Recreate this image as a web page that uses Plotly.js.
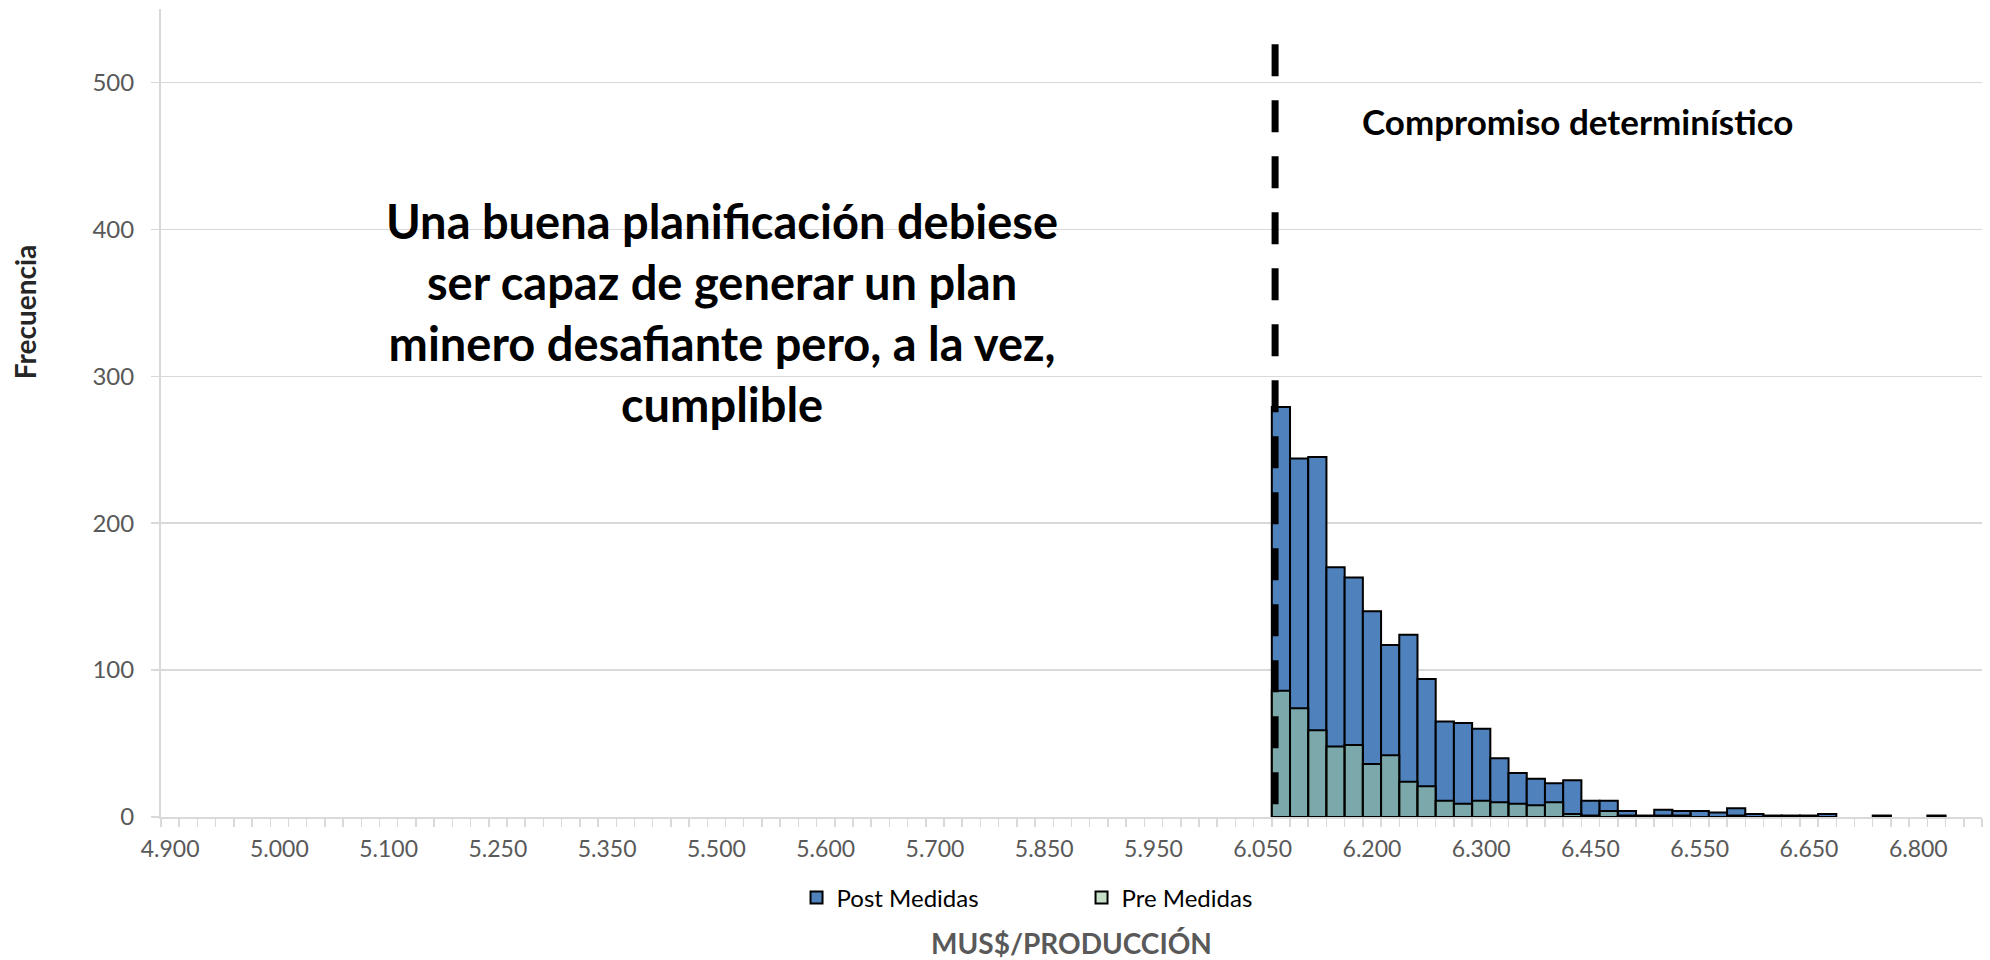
<!DOCTYPE html>
<html>
<head>
<meta charset="utf-8">
<script src="https://cdn.plot.ly/plotly-3.0.1.min.js"></script>
<style>
html,body{margin:0;padding:0;background:#fff;}
#chart{width:1990px;height:960px;}
</style>
</head>
<body>
<div id="chart"></div>
<script>
// Category labels shown on the x axis (one label every 6 bins)
const tickLabels = ['4.900','5.000','5.100','5.250','5.350','5.500','5.600','5.700','5.850','5.950','6.050','6.200','6.300','6.450','6.550','6.650','6.800'];
const tickBins = [0,6,12,18,24,30,36,42,48,54,60,66,72,78,84,90,96];
const binCount = 100;

// Histogram bins (bin index) that hold observations
const binIndex = [61,62,63,64,65,66,67,68,69,70,71,72,73,74,75,76,77,78,79,80,81,82,83,84,85,86,87,88,89,90,91,92,93,94,95,96,97];
const postMedidas = [279,244,245,170,163,140,117,124,94,65,64,60,40,30,26,23,25,11,11,4,1,5,4,4,3,6,2,1,1,1,2,0,0,1,0,0,1];
const preMedidas  = [86,74,59,48,49,36,42,24,21,11,9,11,10,9,8,10,2,1,4,1,0,1,1,0,0,1,0,0,0,0,0,0,0,0,0,0,0];

// Deterministic commitment (position on the bin scale) and the reference line height
const compromisoBin = 60.68;
const compromisoTop = 526;

const seriesNames = ['Post Medidas','Pre Medidas'];
const annotationMain = 'Una buena planificación debiese<br>ser capaz de generar un plan<br>minero desafiante pero, a la vez,<br>cumplible';
const annotationLine = 'Compromiso determinístico';

const nz = a => a.map(v => v === 0 ? null : v);

const traces = [
  {
    type: 'bar', name: seriesNames[0], x: binIndex, y: nz(postMedidas),
    marker: {color: '#4F81BD', line: {color: '#000000', width: 2}},
    hoverinfo: 'y'
  },
  {
    type: 'bar', name: seriesNames[1], x: binIndex, y: nz(preMedidas),
    marker: {color: 'rgba(156,201,159,0.57)', line: {color: '#000000', width: 2}},
    hoverinfo: 'y'
  }
];

const layout = {
  width: 1990, height: 960,
  margin: {l: 161, r: 8, t: 9, b: 142.5},
  paper_bgcolor: '#ffffff', plot_bgcolor: '#ffffff',
  font: {family: 'Lato, "Open Sans", sans-serif', color: '#595959'},
  barmode: 'overlay', bargap: 0,
  showlegend: true,
  legend: {
    orientation: 'h', x: 0.349, xanchor: 'left', y: -0.100, yanchor: 'middle',
    font: {size: 24, color: '#000000', family: 'Lato, sans-serif'},
    entrywidth: 240, entrywidthmode: 'pixels', itemwidth: 30,
    bgcolor: 'rgba(0,0,0,0)'
  },
  xaxis: {
    range: [-0.5, binCount - 0.5],
    tickmode: 'array', tickvals: tickBins, ticktext: tickLabels,
    ticks: '', tickfont: {size: 23, color: '#595959'},
    ticklabelstandoff: 10,
    showgrid: false, zeroline: false,
    showline: true, linecolor: '#D9D9D9', linewidth: 2,
    minor: {tickmode: 'linear', tick0: -0.5, dtick: 1, ticks: 'outside', ticklen: 8, tickcolor: '#D9D9D9', tickwidth: 1.5, showgrid: false},
    title: {text: 'MUS$/PRODUCCIÓN', font: {size: 28, color: '#595959', family: 'Lato, sans-serif', weight: 'bold'}, standoff: 82}
  },
  yaxis: {
    range: [0, 550],
    tickmode: 'array', tickvals: [0,100,200,300,400,500],
    ticks: 'outside', ticklen: 8, tickcolor: '#D9D9D9', tickwidth: 1.5,
    tickfont: {size: 24, color: '#595959'},
    ticklabelstandoff: 12,
    showgrid: true, gridcolor: '#D9D9D9', gridwidth: 1.5,
    zeroline: false,
    showline: true, linecolor: '#D9D9D9', linewidth: 2
  },
  shapes: [
    {type: 'line', xref: 'x', yref: 'y', x0: compromisoBin, x1: compromisoBin, y0: compromisoTop, y1: 0,
     line: {color: '#000000', width: 7, dash: '32px,24px'}, layer: 'above'}
  ],
  annotations: [
    {text: annotationLine, xref: 'x', yref: 'y', x: 77.27, y: 474, showarrow: false,
     font: {size: 35, color: '#000000', family: 'Lato, sans-serif', weight: 'bold'}},
    {text: annotationMain, xref: 'paper', yref: 'paper', x: 0.308, y: (817.5 - 313) / 808.5, xanchor: 'center', yanchor: 'middle', showarrow: false,
     align: 'center',
     font: {size: 47, color: '#000000', family: 'Lato, sans-serif', weight: 'bold'}},
    {text: 'Frecuencia', xref: 'paper', yref: 'paper', x: -0.075, y: (817.5 - 312) / 808.5, xanchor: 'center', yanchor: 'middle', textangle: -90, showarrow: false,
     font: {size: 28, color: '#262626', family: 'Lato, sans-serif', weight: 'bold'}}
  ]
};

Plotly.newPlot('chart', traces, layout, {displayModeBar: false, staticPlot: true});
</script>
</body>
</html>
